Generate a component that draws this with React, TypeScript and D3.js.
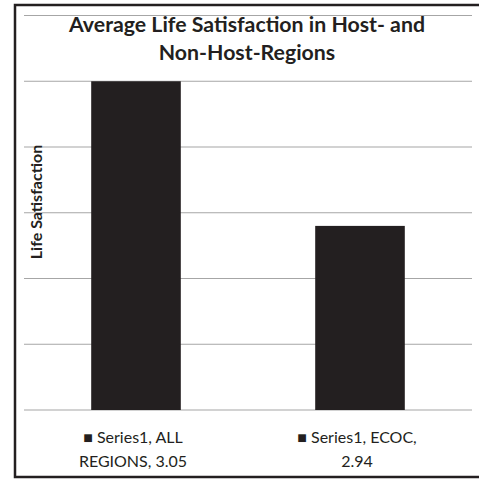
import React from 'react';
import * as d3 from 'd3';

const categories = ['ALL REGIONS', 'ECOC'];
const values = [3.05, 2.94];
const labelLines = [
  ['\u25A0 Series1, ALL', 'REGIONS, 3.05'],
  ['\u25A0 Series1, ECOC,', '2.94'],
];
const yTicks = [2.8, 2.85, 2.9, 2.95, 3.0, 3.05, 3.1];
const titleLines = ['Average Life Satisfaction in Host- and', 'Non-Host-Regions'];
const yTitle = 'Life Satisfaction';

const App = () => {
  const width = 479;
  const height = 479;
  const margin = { top: 15.5, bottom: 69, left: 24, right: 7 };
  const ink = '#231f20';
  const font = 'Lato, "Open Sans", sans-serif';

  const x = d3.scaleBand()
    .domain(categories)
    .range([margin.left, width - margin.right])
    .paddingInner(0.6)
    .paddingOuter(0.3);

  const y = d3.scaleLinear()
    .domain([2.8, 3.1])
    .range([height - margin.bottom, margin.top]);

  return (
    <svg width={width} height={height}
      style={{ position: 'absolute', left: 0, top: 0, background: '#fff' }}>
      <rect x={15} y={5} width={480} height={472} fill='#fff' stroke={ink} strokeWidth={2.5} />
      {yTicks.map(t =>
        <line key={`grid-${t}`} x1={margin.left} x2={width - margin.right}
          y1={y(t)} y2={y(t)} stroke='#a6a6a6' strokeWidth={1.2} />
      )}
      {categories.map((c, i) =>
        <rect key={`bar-${c}`} x={x(c)} y={y(values[i])} width={x.bandwidth()}
          height={y(2.8) - y(values[i])} fill={ink} />
      )}
      {titleLines.map((t, i) =>
        <text key={`title-${i}`} x={247} y={32 + i * 27.5} textAnchor='middle'
          fontFamily={font} fontWeight='bold' fontSize={21.3} fill={ink}>{t}</text>
      )}
      <text transform='translate(42, 202) rotate(-90)' textAnchor='middle'
        fontFamily={font} fontWeight='bold' fontSize={16} fill={ink}>{yTitle}</text>
      {categories.map((c, i) =>
        labelLines[i].map((l, j) =>
          <text key={`lab-${c}-${j}`} x={x(c) + x.bandwidth() / 2 - 3} y={443 + j * 24}
            textAnchor='middle' fontFamily={font} fontSize={16} fill={ink}>{l}</text>
        )
      )}
    </svg>
  );
};

export default App;
